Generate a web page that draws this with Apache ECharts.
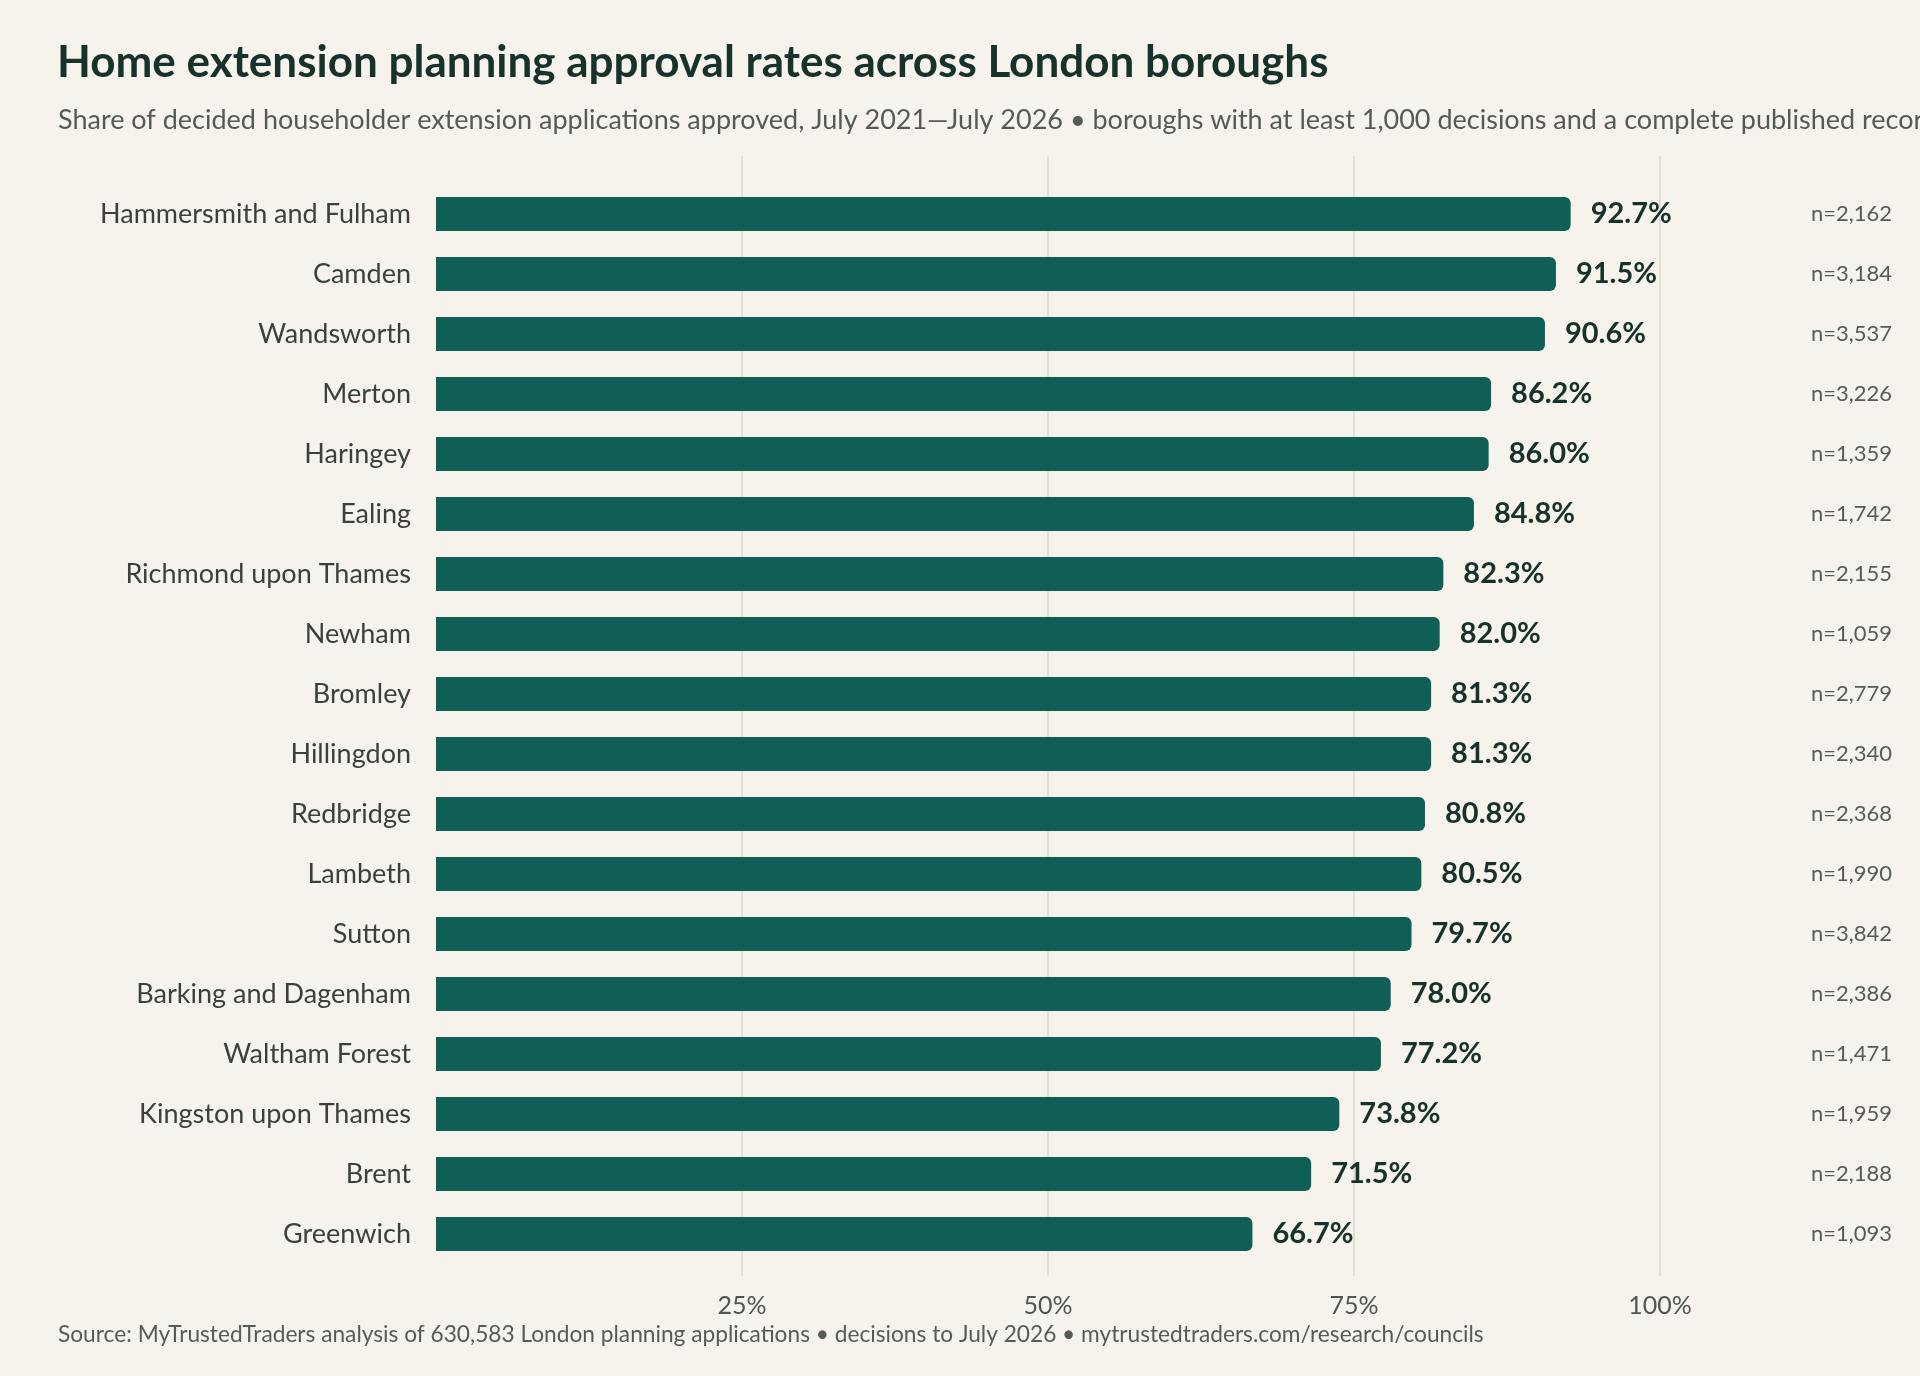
<!DOCTYPE html>
<html>
<head>
<meta charset="utf-8">
<title>Home extension planning approval rates</title>
<script src="https://cdn.jsdelivr.net/npm/echarts@6/dist/echarts.min.js"></script>
<style>
  html, body { margin: 0; padding: 0; background: #f6f3ec; }
  #chart { width: 1920px; height: 1376px; }
</style>
</head>
<body>
<div id="chart"></div>
<script>
// boroughs, top to bottom
var boroughs = ['Hammersmith and Fulham', 'Camden', 'Wandsworth', 'Merton', 'Haringey', 'Ealing',
    'Richmond upon Thames', 'Newham', 'Bromley', 'Hillingdon', 'Redbridge', 'Lambeth', 'Sutton',
    'Barking and Dagenham', 'Waltham Forest', 'Kingston upon Thames', 'Brent', 'Greenwich'];
// approval rate, %
var approvalRate = [92.7, 91.5, 90.6, 86.2, 86.0, 84.8, 82.3, 82.0, 81.3, 81.3, 80.8, 80.5, 79.7, 78.0, 77.2, 73.8, 71.5, 66.7];
// decisions per borough
var decisions = [2162, 3184, 3537, 3226, 1359, 1742, 2155, 1059, 2779, 2340, 2368, 1990, 3842, 2386, 1471, 1959, 2188, 1093];
var xTicks = [25, 50, 75, 100];

var FONT = 'Lato, "Noto Sans", sans-serif';
var chart = echarts.init(document.getElementById('chart'));

var nLabels = decisions.map(function(d) { return 'n=' + d.toLocaleString('en-GB'); });

var option = {
    backgroundColor: '#f6f3ec',
    textStyle: { fontFamily: FONT },
    title: [
        {
            text: 'Home extension planning approval rates across London boroughs',
            left: 52, top: 36,
            textStyle: { fontSize: 44, fontWeight: 'bold', color: '#17322b', fontFamily: FONT }
        },
        {
            text: 'Share of decided householder extension applications approved, July 2021\u2014July 2026 \u2022 boroughs with at least 1,000 decisions and a complete published record',
            left: 53, top: 102,
            textStyle: { fontSize: 27, fontWeight: 'normal', color: '#545a54', fontFamily: FONT }
        },
        {
            text: 'Source: MyTrustedTraders analysis of 630,583 London planning applications \u2022 decisions to July 2026 \u2022 mytrustedtraders.com/research/councils',
            left: 53, top: 1318,
            textStyle: { fontSize: 22.7, fontWeight: 'normal', color: '#555b55', fontFamily: FONT }
        }
    ],
    grid: [
        // bars
        { left: 436, right: 260, top: 184, height: 1080 },
        // gridlines and tick labels
        { left: 436, right: 260, top: 156, height: 1120 }
    ],
    xAxis: [
        {
            gridIndex: 0, type: 'value', min: 0, max: 100,
            show: false
        },
        {
            gridIndex: 1, type: 'value', min: 0, max: 100, interval: 25,
            position: 'bottom',
            axisLine: { show: false },
            axisTick: { show: false },
            splitLine: {
                show: true,
                lineStyle: { color: '#dcd9d1', width: 1.5 },
                showMinLine: false
            },
            axisLabel: {
                margin: 17,
                fontSize: 25, color: '#4f5650', fontFamily: FONT,
                formatter: function(v) { return xTicks.indexOf(v) >= 0 ? v + '%' : ''; }
            }
        }
    ],
    yAxis: [
        {
            gridIndex: 0, type: 'category', data: boroughs, inverse: true,
            axisLine: { show: false },
            axisTick: { show: false },
            splitLine: { show: false },
            axisLabel: { margin: 25, fontSize: 27, color: '#3a413c', fontFamily: FONT }
        },
        {
            gridIndex: 0, type: 'category', data: nLabels, inverse: true, position: 'right',
            axisLine: { show: false },
            axisTick: { show: false },
            splitLine: { show: false },
            axisLabel: { margin: 232, align: 'right', fontSize: 22, color: '#555c56', fontFamily: FONT }
        },
        {
            gridIndex: 1, type: 'value', min: 0, max: 1, show: false
        }
    ],
    series: [
        {
            type: 'bar',
            xAxisIndex: 0, yAxisIndex: 0,
            data: approvalRate,
            barWidth: 34,
            itemStyle: { color: '#0f5f56', borderRadius: [0, 6, 6, 0] },
            label: {
                show: true, position: 'right', distance: 20,
                fontSize: 29, fontWeight: 'bold', color: '#17322b', fontFamily: FONT,
                formatter: function(p) { return p.value.toFixed(1) + '%'; }
            },
            silent: true
        }
    ]
};

chart.setOption(option);
</script>
</body>
</html>
